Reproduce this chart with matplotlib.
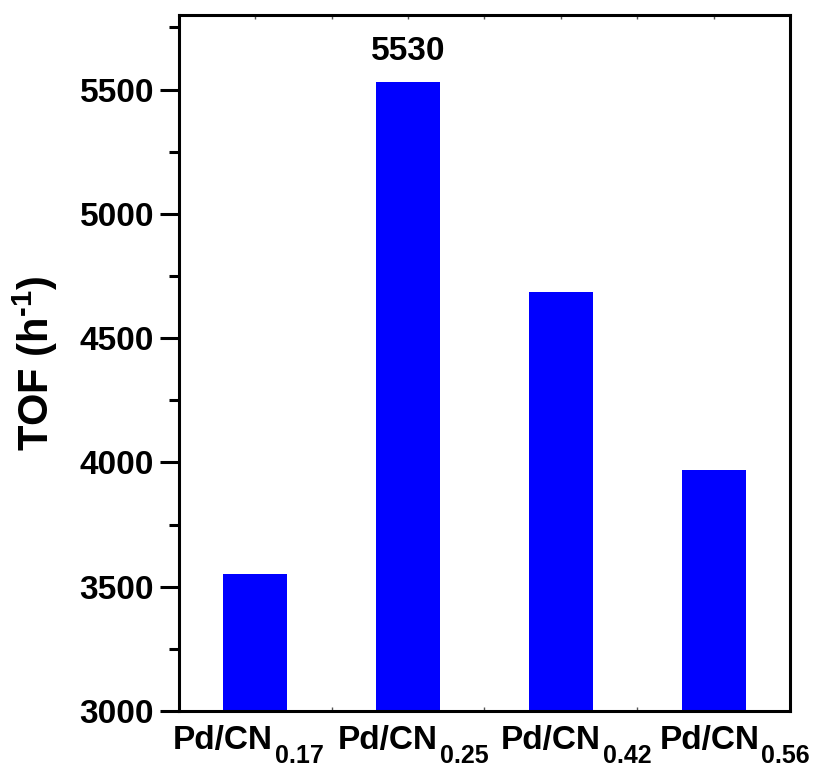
import matplotlib.pyplot as plt
from matplotlib.ticker import MultipleLocator
from matplotlib.transforms import offset_copy

plt.rcParams['font.family'] = ['Liberation Sans', 'DejaVu Sans']
plt.rcParams['font.weight'] = 'bold'
plt.rcParams['mathtext.fontset'] = 'custom'
plt.rcParams['mathtext.rm'] = 'Liberation Sans:bold'
plt.rcParams['mathtext.bf'] = 'Liberation Sans:bold'
plt.rcParams['mathtext.it'] = 'Liberation Sans:bold'

samples = ['0.17', '0.25', '0.42', '0.56']
tof = [3553, 5530, 4684, 3970]
# sideways nudge of each category label (pixels)
label_shift = [-7, 5, 15, 21]

fig = plt.figure(figsize=(8.15, 7.69), dpi=100)
ax = fig.add_axes([0.2196, 0.0754, 0.7497, 0.9051])

pos = list(range(1, len(tof) + 1))
ax.bar(pos, tof, width=0.42, color='#0000ff', zorder=2)

# label the best catalyst
best = tof.index(max(tof))
ax.text(pos[best], tof[best] + 62, str(tof[best]), ha='center', va='bottom',
        fontsize=24, fontweight='bold')

ax.set_xlim(0.5, 4.5)
ax.set_ylim(3000, 5800)
ax.set_xticks(pos)
ax.set_xticklabels([''] * len(pos))
ax.xaxis.set_minor_locator(MultipleLocator(0.5))
ax.yaxis.set_major_locator(MultipleLocator(500))
ax.yaxis.set_minor_locator(MultipleLocator(250))
for lab in ax.get_yticklabels():
    lab.set_fontsize(24)
    lab.set_fontweight('bold')

ax.tick_params(axis='x', which='both', direction='in', top=True, bottom=True,
               length=3, width=1, color='#555555')
ax.tick_params(axis='y', which='major', direction='out', length=14, width=2.2, pad=4)
ax.tick_params(axis='y', which='minor', direction='out', length=7, width=2.2)
ax.tick_params(axis='y', which='both', right=False)

for sp in ax.spines.values():
    sp.set_linewidth(2.2)

ax.set_ylabel('TOF (h$^{\u2010\\mathbf{1}}$)', fontsize=30, fontweight='bold', labelpad=14)

# category labels Pd/CN with a lowered subscript
trans = ax.get_xaxis_transform()
fig.canvas.draw()
renderer = fig.canvas.get_renderer()
for x, s, shift in zip(pos, samples, label_shift):
    main = ax.text(x, 0, 'Pd/CN', transform=trans, fontsize=24, fontweight='bold',
                   ha='left', va='baseline', clip_on=False)
    sub = ax.text(x, 0, s, transform=trans, fontsize=18, fontweight='bold',
                  ha='left', va='baseline', clip_on=False)
    w1 = main.get_window_extent(renderer).width
    w2 = sub.get_window_extent(renderer).width
    left = shift - (w1 + w2 + 2) / 2
    main.set_transform(offset_copy(trans, fig=fig, x=left, y=-38, units='dots'))
    sub.set_transform(offset_copy(trans, fig=fig, x=left + w1 + 2, y=-52, units='dots'))

fig.savefig('out.png', dpi=100)
